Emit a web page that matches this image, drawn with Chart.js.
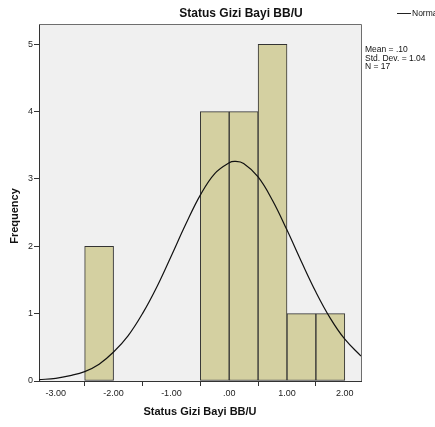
<!DOCTYPE html>
<html>
<head>
<meta charset="utf-8">
<script src="https://cdn.jsdelivr.net/npm/chart.js@4"></script>
<style>
  html, body { margin: 0; padding: 0; background: #fff; }
  #wrap { width: 435px; height: 427px; }
</style>
</head>
<body>
<div id="wrap"><canvas id="chart" width="435" height="427"></canvas></div>
<script>
// histogram bins (width .50) and counts
const binCenters = [-2.25, -0.25, 0.25, 0.75, 1.25, 1.75];
const frequencies = [2, 4, 4, 5, 1, 1];

// normal curve
const curveX = [-3.29, -3.0, -2.75, -2.5, -2.25, -2.0, -1.75, -1.5, -1.25, -1.0, -0.75, -0.5, -0.25, 0.0, 0.1, 0.25, 0.5, 0.75, 1.0, 1.25, 1.5, 1.75, 2.0, 2.28];
const curveY = [0.02, 0.04, 0.08, 0.14, 0.25, 0.43, 0.67, 1.0, 1.4, 1.86, 2.33, 2.76, 3.08, 3.24, 3.26, 3.23, 3.03, 2.68, 2.24, 1.77, 1.32, 0.93, 0.62, 0.37];

const xTicks = [-3, -2, -1, 0, 1, 2];
const yTicks = [0, 1, 2, 3, 4, 5];
const statsLines = ['Mean = .10', 'Std. Dev. = 1.04', 'N = 17'];

const titleText = 'Status Gizi Bayi BB/U';
const xTitle = 'Status Gizi Bayi BB/U';
const yTitle = 'Frequency';
const legendLabel = 'Normal';

const FONT = "'Liberation Sans', Arial, sans-serif";

var fmtX = (v) => {
	if (v === 0) return '.00';
	return v.toFixed(2);
}

var barPoints = binCenters.map((c, i) => ({ x: c, y: frequencies[i] }));
var curvePoints = curveX.map((x, i) => ({ x: x, y: curveY[i] }));

// plot background, frame and the loose texts (title, stats, legend)
var decor = {
	id: 'decor',
	beforeDraw: (chart) => {
		const { ctx, chartArea: a } = chart;
		ctx.save();
		ctx.fillStyle = '#f0f0f0';
		ctx.fillRect(a.left, a.top, a.right - a.left, a.bottom - a.top);
		ctx.restore();
	},
	afterDraw: (chart) => {
		const { ctx, chartArea: a } = chart;
		ctx.save();
		ctx.strokeStyle = '#6e6e6e';
		ctx.lineWidth = 1;
		ctx.beginPath();
		ctx.moveTo(a.left, a.top + 0.5);
		ctx.lineTo(a.right + 0.5, a.top + 0.5);
		ctx.lineTo(a.right + 0.5, a.bottom);
		ctx.stroke();

		ctx.fillStyle = '#111';
		ctx.textAlign = 'center';
		ctx.textBaseline = 'middle';
		ctx.font = 'bold 12px ' + FONT;
		ctx.fillText(titleText, 241, 14);

		ctx.font = 'bold 11px ' + FONT;
		ctx.fillText(xTitle, 200, 412);

		ctx.save();
		ctx.translate(15, 216);
		ctx.rotate(-Math.PI / 2);
		ctx.fillText(yTitle, 0, 0);
		ctx.restore();

		ctx.textAlign = 'left';
		ctx.font = '8.5px ' + FONT;
		statsLines.forEach((t, i) => {
			ctx.fillText(t, 365, 50 + i * 8.5);
		});

		ctx.strokeStyle = '#222';
		ctx.beginPath();
		ctx.moveTo(397, 13.5);
		ctx.lineTo(411, 13.5);
		ctx.stroke();
		ctx.fillText(legendLabel, 412, 14);
		ctx.restore();
	}
}

var drawChart = () => {
	new Chart(document.getElementById('chart'), {
		type: 'bar',
		data: {
			datasets: [
				{
					type: 'line',
					data: curvePoints,
					borderColor: '#111',
					borderWidth: 1.2,
					pointRadius: 0,
					tension: 0.4,
					fill: false,
					order: 0
				},
				{
					type: 'bar',
					data: barPoints,
					backgroundColor: '#d4d0a1',
					borderColor: '#333',
					borderWidth: 1,
					borderSkipped: false,
					barPercentage: 1,
					categoryPercentage: 1,
					order: 1
				}
			]
		},
		options: {
			responsive: false,
			animation: false,
			layout: { padding: { left: 0, top: 24, right: 74, bottom: 0 } },
			plugins: {
				legend: { display: false },
				title: { display: false },
				tooltip: { enabled: false }
			},
			scales: {
				x: {
					type: 'linear',
					min: -3.29,
					max: 2.28,
					offset: false,
					afterFit: (s) => { s.height = 46; },
					afterBuildTicks: (s) => { s.ticks = xTicks.map(v => ({ value: v })); },
					ticks: {
						callback: (v) => fmtX(v),
						font: { size: 9, family: FONT },
						color: '#222',
						padding: 2,
						maxRotation: 0
					},
					grid: { drawOnChartArea: false, tickLength: 5, color: '#333' },
					border: { display: true, color: '#333' }
				},
				y: {
					min: 0,
					max: 5.3,
					afterFit: (s) => { s.width = 39; },
					afterBuildTicks: (s) => { s.ticks = yTicks.map(v => ({ value: v })); },
					ticks: {
						font: { size: 9, family: FONT },
						color: '#222',
						padding: 1
					},
					grid: { drawOnChartArea: false, tickLength: 5, color: '#333' },
					border: { display: true, color: '#333' }
				}
			}
		},
		plugins: [decor]
	});
}

drawChart();
</script>
</body>
</html>
